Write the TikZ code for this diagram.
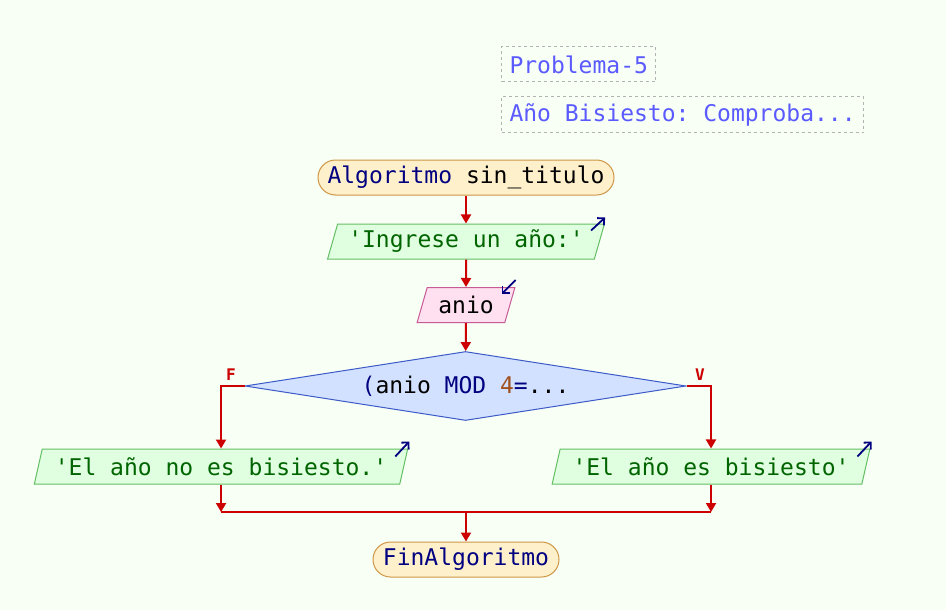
\documentclass[tikz,border=0pt]{standalone}
\usepackage{fontspec}
\setmonofont{DejaVu Sans Mono}
\usetikzlibrary{shapes.geometric}
\usetikzlibrary{arrows.meta}
\usetikzlibrary{calc,positioning}
\definecolor{fondo}{RGB}{248,255,245}
\definecolor{termfill}{RGB}{255,240,204}
\definecolor{termline}{RGB}{205,150,70}
\definecolor{salfill}{RGB}{224,255,224}
\definecolor{salline}{RGB}{100,190,100}
\definecolor{saltext}{RGB}{0,100,0}
\definecolor{entfill}{RGB}{255,224,240}
\definecolor{entline}{RGB}{200,90,150}
\definecolor{decfill}{RGB}{210,225,255}
\definecolor{decline}{RGB}{60,90,200}
\definecolor{clave}{RGB}{0,0,128}
\definecolor{numero}{RGB}{160,80,30}
\definecolor{flujo}{RGB}{204,0,0}
\definecolor{notatext}{RGB}{90,90,255}

\begin{document}
\begin{tikzpicture}[x=0.5pt,y=-0.5pt,->,>={Triangle[width=5pt,length=4.5pt]},
  font=\ttfamily\fontsize{11.5}{13}\selectfont,
  bloque/.style={draw,line width=0.5pt,minimum height=17.5pt,inner sep=0pt},
  inicio/.style={bloque,rectangle,rounded corners=8.75pt,fill=termfill,draw=termline},
  salida/.style={bloque,trapezium,trapezium left angle=68,trapezium right angle=112,
    trapezium stretches=true,fill=salfill,draw=salline,text=saltext},
  entrada/.style={salida,fill=entfill,draw=entline,text=black},
  decision/.style={bloque,diamond,aspect=6.4,minimum width=220.5pt,
    minimum height=34.5pt,fill=decfill,draw=decline},
  nota/.style={draw=gray!60,line width=0.5pt,dash pattern=on 1.5pt off 1.5pt,
    text=notatext,inner xsep=4pt,minimum height=17.5pt,anchor=west},
  etiqueta/.style={text=flujo,font=\ttfamily\bfseries\fontsize{8}{9}\selectfont},
  icono/.style={draw=clave,line width=0.9pt,-{Straight Barb[length=2.5pt,width=5pt]}},
  linea/.style={draw=flujo,line width=1pt}]
\fill[fondo] (0,0) rectangle (946,610);

% notas
\node[nota] (prob) at (501,64.5) {Problema-5};
\node[nota] (desc) at (501,114.5) {Año Bisiesto: Comproba...};

% bloques
\node[inicio,minimum width=148pt] (ini) at (466,177.5)
  {\textcolor{clave}{Algoritmo} sin\_titulo};
\node[salida,minimum width=138.5pt] (msg) at (466,241.5) {'Ingrese un año:'};
\node[entrada,minimum width=49pt] (lee) at (466,305) {anio};
\node[decision] (cond) at (465.5,386)
  {\textcolor{clave}{(}anio \textcolor{clave}{MOD} \textcolor{numero}{4}\textcolor{clave}{=}...};
\node[salida,minimum width=187pt] (no) at (221,466.5) {'El año no es bisiesto.'};
\node[salida,minimum width=159pt] (si) at (711,466.5) {'El año es bisiesto'};
\node[inicio,minimum width=93pt] (fin) at (466,559.5) {\textcolor{clave}{FinAlgoritmo}};
\coordinate (une) at (466,512);

\node[etiqueta] (f) at (231,375) {F};
\node[etiqueta] (v) at (700,375) {V};

% flujo
\draw[linea] (ini) -- (msg);
\draw[linea] (msg) -- (lee);
\draw[linea] (lee) -- (cond);
\draw[linea] (cond.west) -| (no.north);
\draw[linea] (cond.east) -| (si.north);
\draw[linea] (no.south) -- (no.south |- une);
\draw[linea] (si.south) -- (si.south |- une);
\draw[linea,-] (no.south |- une) -- (si.south |- une);
\draw[linea] (une) -- (fin);

% iconos
\draw[icono] ($(msg.top right corner)+(-14,7)$) -- +(14,-13);
\draw[icono] ($(lee.top right corner)+(0,-7)$) -- +(-14,14);
\draw[icono] ($(no.top right corner)+(-13,8)$) -- +(14,-15);
\draw[icono] ($(si.top right corner)+(-13,8)$) -- +(14,-15);
\end{tikzpicture}
\end{document}
